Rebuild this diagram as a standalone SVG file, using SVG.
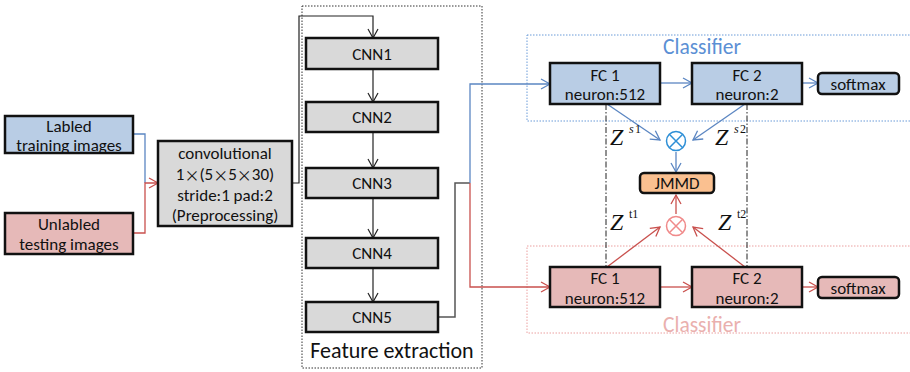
<svg xmlns="http://www.w3.org/2000/svg" width="910" height="372" viewBox="0 0 910 372">
<defs>
<style>
.t{font-family:Calibri,Carlito,"Liberation Sans",sans-serif;font-size:17px;fill:#111;text-anchor:middle;dominant-baseline:central}
.cj{font-family:"Noto Sans CJK SC",sans-serif;font-size:15px}
.box{stroke:#111;stroke-width:2.5}
.blue{fill:#B9CDE5}
.pink{fill:#E6B9B8}
.gray{fill:#D9D9D9}
.bl{stroke:#5B86C2;stroke-width:1.3;fill:none}
.rl{stroke:#C9504D;stroke-width:1.3;fill:none}
.kl{stroke:#222;stroke-width:1.2;fill:none}
.gl{stroke:#555;stroke-width:1.5;fill:none}
.dd{stroke:#222;stroke-width:1;fill:none;stroke-dasharray:6 2 1.5 2}
.z{font-family:"Liberation Serif","Times New Roman",serif;font-size:24px;font-style:italic;fill:#111}
.zs{font-family:"Liberation Serif","Times New Roman",serif;font-size:12px;fill:#111}
</style>
<marker id="ab" markerWidth="12" markerHeight="12" refX="10" refY="6" orient="auto" markerUnits="userSpaceOnUse"><path d="M1,1 L10,6 L1,11" fill="none" stroke="#5B86C2" stroke-width="1.3"/></marker>
<marker id="ar" markerWidth="12" markerHeight="12" refX="10" refY="6" orient="auto" markerUnits="userSpaceOnUse"><path d="M1,1 L10,6 L1,11" fill="none" stroke="#C9504D" stroke-width="1.3"/></marker>
<marker id="ak" markerWidth="12" markerHeight="12" refX="10" refY="6" orient="auto" markerUnits="userSpaceOnUse"><path d="M1,1 L10,6 L1,11" fill="none" stroke="#222" stroke-width="1.2"/></marker>
</defs>
<rect width="910" height="372" fill="#fff"/>

<g id="feature-extraction-group">
<rect x="302" y="6" width="180" height="362" fill="none" stroke="#333" stroke-width="1" stroke-dasharray="1.5 1.5"/>
<text class="t" x="392" y="350" style="font-size:22px">Feature extraction</text>
</g>
<g id="classifier-top">
<rect x="527" y="35" width="390" height="86" fill="none" stroke="#6A9BD8" stroke-width="1" stroke-dasharray="1.5 1.5"/>
<text class="t" x="702" y="47" style="font-size:21.5px;fill:#5B8FD4">Classifier</text>
</g>
<g id="classifier-bottom">
<rect x="527" y="246" width="390" height="87" fill="none" stroke="#EBA0A0" stroke-width="1" stroke-dasharray="1.5 1.5"/>
<text class="t" x="702" y="325" style="font-size:21.5px;fill:#EAB0AE">Classifier</text>
</g>

<g id="connectors">
<path class="bl" d="M133,134 H145 V183"/>
<path class="rl" d="M133,233 H145 V183 H158" marker-end="url(#ar)"/>
<path class="kl" d="M292,183 H299 V16 H373 V38" marker-end="url(#ak)"/>
<path class="kl" d="M373,69 V102" marker-end="url(#ak)"/>
<path class="kl" d="M373,132 V168" marker-end="url(#ak)"/>
<path class="kl" d="M373,198 V238" marker-end="url(#ak)"/>
<path class="kl" d="M373,268 V302" marker-end="url(#ak)"/>
<path class="gl" d="M438,317 H455 V183 H470"/>
<path class="bl" d="M470,183 V84 H550" marker-end="url(#ab)"/>
<path class="rl" d="M470,183 V287 H550" marker-end="url(#ar)"/>
<path class="bl" d="M660,83 H692" marker-end="url(#ab)"/>
<path class="bl" d="M802,83 H818" marker-end="url(#ab)"/>
<path class="rl" d="M660,287 H692" marker-end="url(#ar)"/>
<path class="rl" d="M802,287 H818" marker-end="url(#ar)"/>
<path class="dd" d="M606,104 V267"/>
<path class="dd" d="M747,104 V267"/>
<path class="bl" d="M607,104 L660,140" marker-end="url(#ab)"/>
<path class="bl" d="M745,104 L693,140" marker-end="url(#ab)"/>
<path class="bl" d="M676,152 V172" marker-end="url(#ab)"/>
<path class="rl" d="M607,267 L660,227" marker-end="url(#ar)"/>
<path class="rl" d="M745,267 L693,227" marker-end="url(#ar)"/>
<path class="rl" d="M676,214 V195" marker-end="url(#ar)"/>
</g>

<g id="labled">
<rect class="box blue" x="5" y="116" width="128" height="37"/>
<text class="t" x="69" y="126">Labled</text>
<text class="t" x="69" y="145">training images</text>
</g>
<g id="unlabled">
<rect class="box pink" x="5" y="213" width="128" height="41"/>
<text class="t" x="69" y="224">Unlabled</text>
<text class="t" x="69" y="244">testing images</text>
</g>
<g id="conv">
<rect class="box gray" x="158" y="141" width="134" height="85"/>
<text class="t" x="225" y="153">convolutional</text>
<text class="t" x="225" y="174">1<tspan class="cj">×</tspan>(5<tspan class="cj">×</tspan>5<tspan class="cj">×</tspan>30)</text>
<text class="t" x="225" y="195">stride:1 pad:2</text>
<text class="t" x="225" y="215">(Preprocessing)</text>
</g>
<g id="cnn1"><rect class="box gray" x="306" y="38" width="132" height="31"/><text class="t" x="372" y="54">CNN1</text></g>
<g id="cnn2"><rect class="box gray" x="306" y="102" width="132" height="30"/><text class="t" x="372" y="117">CNN2</text></g>
<g id="cnn3"><rect class="box gray" x="306" y="168" width="132" height="30"/><text class="t" x="372" y="183">CNN3</text></g>
<g id="cnn4"><rect class="box gray" x="306" y="238" width="132" height="30"/><text class="t" x="372" y="253">CNN4</text></g>
<g id="cnn5"><rect class="box gray" x="306" y="302" width="132" height="30"/><text class="t" x="372" y="317">CNN5</text></g>

<g id="fc1-s"><rect class="box blue" x="550" y="63" width="110" height="41"/><text class="t" x="605" y="75">FC 1</text><text class="t" x="605" y="94">neuron:512</text></g>
<g id="fc2-s"><rect class="box blue" x="692" y="63" width="110" height="41"/><text class="t" x="747" y="75">FC 2</text><text class="t" x="747" y="94">neuron:2</text></g>
<g id="softmax-s"><rect class="box blue" x="818" y="73" width="81" height="21" rx="4"/><text class="t" x="858" y="84">softmax</text></g>

<g id="fc1-t"><rect class="box pink" x="550" y="267" width="110" height="40"/><text class="t" x="605" y="278">FC 1</text><text class="t" x="605" y="298">neuron:512</text></g>
<g id="fc2-t"><rect class="box pink" x="692" y="267" width="110" height="40"/><text class="t" x="747" y="278">FC 2</text><text class="t" x="747" y="298">neuron:2</text></g>
<g id="softmax-t"><rect class="box pink" x="818" y="277" width="81" height="21" rx="4"/><text class="t" x="858" y="288">softmax</text></g>

<g id="jmmd"><rect class="box" x="640" y="173" width="74" height="20" rx="4" fill="#FAC090"/><text class="t" x="677" y="183">JMMD</text></g>

<g id="otimes-s">
<circle cx="676" cy="141" r="9.5" fill="none" stroke="#2E8FD6" stroke-width="1.5"/>
<path d="M669.3,134.3 L682.7,147.7 M682.7,134.3 L669.3,147.7" stroke="#2E8FD6" stroke-width="1.5"/>
</g>
<g id="otimes-t">
<circle cx="676" cy="226" r="9.5" fill="none" stroke="#F08A8A" stroke-width="1.5"/>
<path d="M669.3,219.3 L682.7,232.7 M682.7,219.3 L669.3,232.7" stroke="#F08A8A" stroke-width="1.5"/>
</g>

<g id="zlabels">
<text class="z" x="610" y="145">Z</text><text class="zs" x="629" y="133" style="font-style:italic">s</text><text class="zs" x="635" y="133">1</text>
<text class="z" x="715" y="145">Z</text><text class="zs" x="734" y="133" style="font-style:italic">s</text><text class="zs" x="740" y="133">2</text>
<text class="z" x="610" y="230">Z</text><text class="zs" x="629" y="218">t1</text>
<text class="z" x="718" y="230">Z</text><text class="zs" x="737" y="218">t2</text>
</g>
</svg>
